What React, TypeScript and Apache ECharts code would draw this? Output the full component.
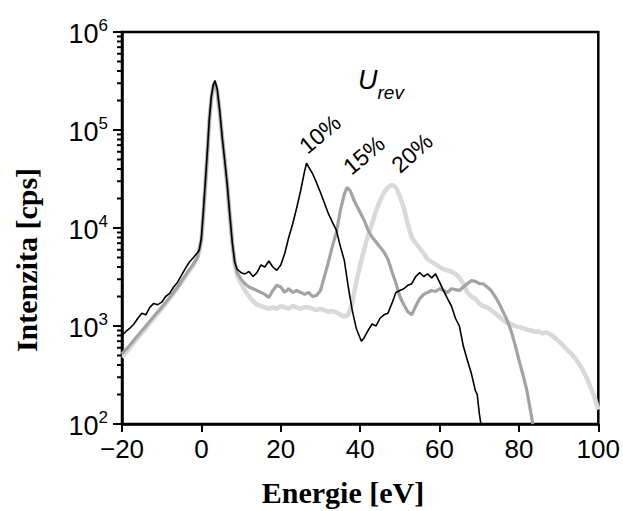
import React, { useEffect, useRef } from "react";
import * as echarts from "echarts";

// ---- data ----
const xTickValues = [-20, 0, 20, 40, 60, 80, 100];
const yDecades = [100, 1000, 10000, 100000, 1000000];
const minorMultipliers = [2, 3, 4, 5, 6, 7, 8, 9];

// 10 % series (black)
const blackE = [
  -20, -19, -18, -17, -16, -15, -14, -13, -12, -11, -10, -9, -8, -7, -6, -5, -4, -3, -2, -1, -0.5,
  0, 0.5, 1, 1.5, 2, 2.5, 3, 3.4, 4, 4.6, 5.3, 5.9, 6.5, 7.2, 7.8, 8.4, 9, 10, 11, 12, 13, 14, 15,
  16, 17, 18, 19, 20, 21, 22, 23, 24, 25, 26, 26.5, 27, 28, 29, 30, 31, 32, 33, 34, 35, 36, 37,
  38, 39, 40.3, 41, 42, 43, 44, 45, 46, 47, 48, 49, 50, 51, 52, 53, 54, 55, 56, 57, 58, 59, 60,
  61, 62, 63, 64, 65, 66, 67, 68, 69, 69.5, 70, 70.5,
];
const blackI = [
  800, 880, 950, 1050, 1200, 1350, 1300, 1550, 1700, 1650, 1750, 2000, 2150, 2500, 2800, 3300, 3900, 4500, 5000, 5600, 6000,
  8000, 15000, 30000, 60000, 130000, 220000, 290000, 320000, 260000, 160000, 80000, 48000, 28000, 13000, 7000, 4500, 3800, 3500, 3400, 3600, 3200, 3500, 4200,
  4000, 4600, 4000, 3700, 4200, 5500, 8000, 11000, 16000, 24000, 38000, 46000, 42000, 36000, 29000, 23000, 18000, 14000, 11500, 9500, 6500, 4700, 2500,
  1450, 950, 700, 760, 900, 1050, 1000, 1200, 1300, 1350, 1700, 2200, 2300, 2400, 2600, 2700, 3200, 3500, 3200, 3400, 3100, 3400, 2800,
  2300, 1900, 1600, 1200, 1000, 620, 450, 330, 220, 200, 130, 95,
];

// 15 % series (grey)
const greyE = [
  -20, -18, -16, -14, -12, -10, -8, -6, -4, -2, -1, 0, 0.5, 1, 1.5, 2, 2.5, 3, 3.4, 4, 4.6, 5.3, 5.9,
  6.5, 7.2, 7.8, 8.4, 9, 10, 11, 12, 13, 14, 15, 16, 17, 18, 19, 20, 21, 22, 23, 24, 25, 26, 27, 28,
  29, 30, 31, 32, 33, 34, 35, 36, 36.7, 37.5, 38.5, 39.8, 41, 42, 43, 44, 45, 46, 47, 48, 49, 50, 51,
  52, 53, 54, 55, 56, 57, 58, 59, 60, 61, 62, 63, 64, 65, 66, 67, 68, 69, 70, 71, 72, 73, 74, 75, 76,
  77, 78, 79, 80, 81, 82, 83, 83.5,
];
const greyI = [
  520, 640, 800, 1000, 1250, 1550, 1950, 2500, 3300, 4300, 5000, 7500, 14000, 28000, 58000, 125000, 210000, 280000, 310000, 250000, 155000, 80000, 48000,
  28000, 13000, 7000, 4500, 3500, 3000, 2700, 2500, 2400, 2300, 2200, 2100, 1950, 2300, 2600, 2500, 2200, 2400, 2200, 2300, 2200, 2100, 2200, 2000,
  2050, 2300, 3200, 4500, 6500, 9000, 15000, 22000, 26000, 24000, 19000, 15000, 12000, 9500, 8100, 7200, 6400, 5700, 4800, 3600, 2750, 2000, 1650,
  1400, 1300, 1600, 1900, 2100, 2200, 2300, 2250, 2400, 2300, 2200, 2400, 2350, 2300, 2500, 2700, 2900, 2850, 2700, 2700, 2500, 2300, 2000, 1700, 1400,
  1150, 900, 650, 450, 320, 220, 130, 100,
];

// 20 % series (light grey)
const lightE = [
  -20, -18, -16, -14, -12, -10, -8, -6, -4, -2, -1, 0, 0.5, 1, 1.5, 2, 2.5, 3, 3.4, 4, 4.6, 5.3, 5.9,
  6.5, 7.2, 7.8, 8.4, 9, 10, 11, 12, 13, 14, 15, 16, 17, 18, 19, 20, 21, 22, 23, 24, 25, 26, 27, 28,
  29, 30, 31, 32, 33, 34, 35, 36, 37, 38, 39, 40, 41, 42, 43, 44, 45, 46, 47, 48, 49, 50, 51, 52, 53,
  54, 55, 56, 57, 58, 59, 60, 61, 62, 63, 64, 65, 66, 67, 68, 69, 70, 71, 72, 73, 74, 75, 76, 77, 78,
  79, 80, 81, 82, 83, 84, 85, 86, 87, 88, 89, 90, 91, 92, 93, 94, 95, 96, 97, 98, 99, 100,
];
const lightI = [
  480, 600, 760, 950, 1200, 1500, 1900, 2450, 3200, 4200, 4900, 7500, 14000, 28000, 58000, 125000, 210000, 280000, 300000, 250000, 155000, 80000, 48000,
  28000, 13000, 7000, 4300, 3300, 2700, 2300, 2000, 1800, 1650, 1600, 1550, 1500, 1550, 1500, 1600, 1550, 1500, 1600, 1550, 1500, 1550, 1550, 1500,
  1450, 1500, 1450, 1400, 1420, 1380, 1300, 1250, 1300, 1700, 2800, 4200, 6000, 8500, 11000, 15000, 19000, 23000, 26000, 27500, 26000, 21000, 16000, 11000, 8000,
  7000, 6200, 5500, 4800, 4500, 4300, 4000, 3800, 3700, 3600, 3400, 3100, 2700, 2200, 2000, 1900, 1700, 1600, 1550, 1450, 1350, 1250, 1150, 1080, 1050,
  1000, 980, 950, 920, 900, 870, 880, 840, 860, 820, 760, 700, 640, 580, 530, 480, 420, 360, 300, 240, 190, 140,
];

const seriesLabels = ["10%", "15%", "20%"];

const SANS = "'Liberation Sans', Arial, sans-serif";
const SERIF = "'Liberation Serif', 'Times New Roman', serif";

const zip = (xs: number[], ys: number[]) => xs.map((x, i) => [x, ys[i]]);

export default function App() {
  const ref = useRef<HTMLDivElement>(null);
  useEffect(() => {
    if (!ref.current) return;
    const chart = echarts.init(ref.current, null, { renderer: "svg" });
    const minorTicks: number[][] = [];
    yDecades.slice(0, -1).forEach((d) =>
      minorMultipliers.forEach((m) => minorTicks.push([xTickValues[0], d * m]))
    );
    const option: any = {
      animation: false,
      backgroundColor: "#fff",
      grid: {
        left: 122,
        top: 32,
        right: 23,
        bottom: 87,
        show: true,
        borderColor: "#000",
        borderWidth: 2.5,
        backgroundColor: "transparent",
      },
      xAxis: {
        type: "value",
        min: -20,
        max: 100,
        interval: 20,
        splitLine: { show: false },
        axisLine: { show: true, onZero: false, lineStyle: { color: "#000", width: 2.5 } },
        axisTick: { show: true, length: 8, lineStyle: { color: "#000", width: 2 } },
        axisLabel: {
          margin: 12,
          fontFamily: SANS,
          fontSize: 26,
          color: "#000",
          formatter: (v: number) => (v < 0 ? "\u2212" + Math.abs(v) : String(v)),
        },
      },
      yAxis: {
        type: "log",
        min: 100,
        max: 1000000,
        logBase: 10,
        splitLine: { show: false },
        axisLine: { show: true, onZero: false, lineStyle: { color: "#000", width: 2.5 } },
        axisTick: { show: true, length: 9, lineStyle: { color: "#000", width: 2 } },
        axisLabel: {
          margin: 14,
          color: "#000",
          formatter: (v: number) => `{b|10}{s|${Math.round(Math.log10(v))}}`,
          rich: {
            b: { fontFamily: SANS, fontSize: 27, color: "#000", lineHeight: 30, verticalAlign: "bottom" },
            s: { fontFamily: SANS, fontSize: 17, color: "#000", lineHeight: 30, verticalAlign: "top" },
          },
        },
      },
      series: [
        {
          name: seriesLabels[2],
          type: "line",
          data: zip(lightE, lightI),
          showSymbol: false,
          lineStyle: { color: "#d9d9d9", width: 4.5 },
          z: 2,
        },
        {
          name: seriesLabels[1],
          type: "line",
          data: zip(greyE, greyI),
          showSymbol: false,
          lineStyle: { color: "#a3a3a3", width: 3.2 },
          z: 3,
        },
        {
          name: seriesLabels[0],
          type: "line",
          data: zip(blackE, blackI),
          showSymbol: false,
          lineStyle: { color: "#000", width: 1.6 },
          z: 4,
        },
        {
          type: "custom",
          coordinateSystem: "cartesian2d",
          data: minorTicks,
          clip: false,
          silent: true,
          z: 10,
          renderItem: (params: any, api: any) => {
            const p = api.coord([api.value(0), api.value(1)]);
            return {
              type: "line",
              shape: { x1: p[0] - 5, y1: p[1], x2: p[0], y2: p[1] },
              style: { stroke: "#000", lineWidth: 2 },
            };
          },
        },
      ],
      graphic: [
        {
          type: "text",
          x: 26,
          y: 260,
          rotation: Math.PI / 2,
          style: {
            text: "Intenzita [cps]",
            font: `bold 30px ${SERIF}`,
            fill: "#000",
            align: "center",
            verticalAlign: "middle",
          },
        },
        {
          type: "text",
          x: 343,
          y: 492,
          style: {
            text: "Energie [eV]",
            font: `bold 30px ${SERIF}`,
            fill: "#000",
            align: "center",
            verticalAlign: "middle",
          },
        },
        {
          type: "text",
          x: 358,
          y: 66,
          style: {
            text: "{u|U}{r|rev}",
            rich: {
              u: { fontFamily: SANS, fontStyle: "italic", fontSize: 27, fill: "#000", lineHeight: 36, verticalAlign: "top" },
              r: { fontFamily: SANS, fontStyle: "italic", fontSize: 19, fill: "#000", lineHeight: 36, verticalAlign: "bottom" },
            },
          },
        },
        {
          type: "text",
          x: 320,
          y: 134,
          rotation: (40 * Math.PI) / 180,
          style: { text: seriesLabels[0], font: `23px ${SANS}`, fill: "#000", align: "center", verticalAlign: "middle" },
        },
        {
          type: "text",
          x: 364,
          y: 155,
          rotation: (40 * Math.PI) / 180,
          style: { text: seriesLabels[1], font: `23px ${SANS}`, fill: "#000", align: "center", verticalAlign: "middle" },
        },
        {
          type: "text",
          x: 412,
          y: 153,
          rotation: (42 * Math.PI) / 180,
          style: { text: seriesLabels[2], font: `23px ${SANS}`, fill: "#000", align: "center", verticalAlign: "middle" },
        },
      ],
    };
    chart.setOption(option);
    return () => chart.dispose();
  }, []);
  return <div ref={ref} style={{ position: "absolute", left: 0, top: 0, width: 623, height: 511 }} />;
}
